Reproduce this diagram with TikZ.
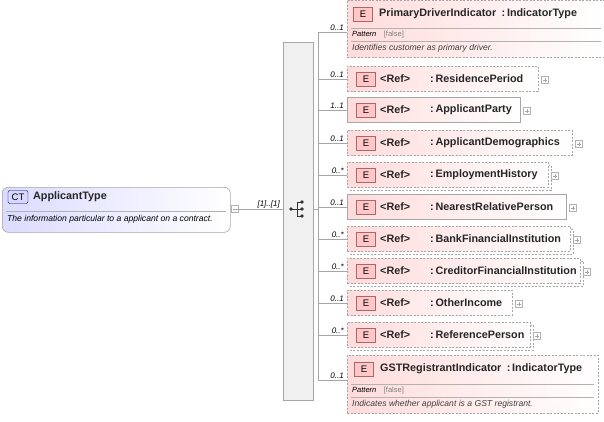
\documentclass[tikz,border=0pt]{standalone}
\usepackage{fontspec}
\setmainfont{Liberation Sans}
\usetikzlibrary{calc}
\begin{document}
\begin{tikzpicture}[x=1pt,y=-1pt,
  el/.style={draw=gray!70,line width=0.6pt,left color=red!14,right color=white,anchor=north west,inner sep=0pt},
  opt/.style={dashed,dash pattern=on 2pt off 1.5pt},
  s0/.style={}, s1/.style={opt},
  badge/.style={draw=red!45!black!60,fill=red!22,line width=0.5pt,minimum width=19pt,minimum height=14pt,inner sep=0pt,font=\fontsize{9.5}{10}\selectfont},
  ttl/.style={font=\bfseries\fontsize{10.8}{12}\selectfont,text=black!85,anchor=west,inner sep=0pt},
  card/.style={font=\itshape\fontsize{8}{9}\selectfont,anchor=south east,inner sep=1pt},
  small/.style={font=\itshape\fontsize{8.6}{9}\selectfont,anchor=west,inner sep=0pt},
  plus/.style={draw=gray!60,fill=white,minimum size=7pt,inner sep=0pt,line width=0.4pt},
  conn/.style={draw=gray!70,line width=0.6pt}]
\useasboundingbox (0,0) rectangle (604,421);
% complex type
\node[draw=gray!70,rounded corners=6pt,left color=blue!14,right color=white,line width=0.6pt,anchor=north west,minimum width=228pt,minimum height=45pt] (ct) at (2,187) {};
\node[draw=blue!50!black,fill=blue!15,rounded corners=2pt,minimum width=20pt,minimum height=13pt,inner sep=0pt,font=\fontsize{9.5}{10}\selectfont] (ctb) at (18,197) {CT};
\node[ttl] (ctt) at (33,197) {ApplicantType};
\draw[gray!60] (6,211) -- (226,211);
\node[small] (ctd) at (7,219) {The information particular to a applicant on a contract.};
\node[plus] (m) at (235,209) {};
\draw[gray!70] (232.5,209) -- (237.5,209);
% sequence
\node[draw=gray!70,fill=gray!12,anchor=north west,minimum width=30pt,minimum height=358pt,inner sep=0pt] (seq) at (283,42) {};
\draw[conn] (m.east) -- (seq.west |- m.east);
\node[card] at (281,209) {[1]..[1]};
\coordinate (h) at (291,209);
\draw[gray!40!black,line width=0.7pt] (h) -- (297,209) (297,202) -- (297,216) (297,202) -- (302,202) (297,216) -- (302,216) (297,209) -- (302,209);
\foreach \yy in {202,209,216} \fill[black!80] (302,\yy) circle (1.9pt);
\fill[black!80] (h) circle (1.9pt);
\coordinate (bt) at (318,32);
\coordinate (bb) at (318,380);
\draw[conn] (seq.east |- m.east) -- (318,209);
\draw[conn] (bt) -- (bb);
% element with details
\node[el,opt,minimum width=258pt,minimum height=57pt] (e1) at (347,0) {};
\node[badge] at (363,14) {E};
\node[ttl] at (379,14) {PrimaryDriverIndicator\enspace:\,IndicatorType};
\draw[gray!60] (351,28) -- (601,28) (351,41) -- (601,41);
\node[small,font=\itshape\fontsize{7.5}{8}\selectfont] at (352,34.5) {Pattern\quad\textcolor{gray}{\upshape[false]}};
\node[small,text=black!75] at (352,48) {Identifies customer as primary driver.};
\draw[conn] (bt) -- (bt -| e1.west);
\node[card] at (345,32) {0..1};
\node[el,opt,minimum width=251pt,minimum height=58pt] (e11) at (347,355) {};
\node[badge] at (364,369) {E};
\node[ttl] at (380,369) {GSTRegistrantIndicator\enspace:\,IndicatorType};
\draw[gray!60] (351,384) -- (594,384) (351,397) -- (594,397);
\node[small,font=\itshape\fontsize{7.5}{8}\selectfont] at (352,390.5) {Pattern\quad\textcolor{gray}{\upshape[false]}};
\node[small,text=black!75] at (352,404) {Indicates whether applicant is a GST registrant.};
\draw[conn] (bb) -- (bb -| e11.west);
\node[card] at (345,380) {0..1};
% ref elements: top, width, card, name, dashed?, multiple?
\foreach \t/\w/\c/\n/\d/\mm [count=\i] in {
  66/191/0..1/ResidencePeriod/1/0,
  97/173/1..1/ApplicantParty/0/0,
  130/225/0..1/ApplicantDemographics/1/0,
  162/201/0..*/EmploymentHistory/1/1,
  194/219/0..1/NearestRelativePerson/0/0,
  226/223/0..*/BankFinancialInstitution/1/1,
  258/233/0..*/CreditorFinancialInstitution/1/1,
  290/165/0..1/OtherIncome/1/0,
  322/183/0..*/ReferencePerson/1/1}{
  \ifnum\mm=1\relax
    \draw[gray!70,line width=0.6pt,s\d,fill=white] (350,\t+3) rectangle (347+\w+3,\t+28);
  \fi
  \node[el,s\d,minimum width=\w pt,minimum height=25pt] (r\i) at (347,\t) {};
  \node[badge] at (366,\t+13.5) {E};
  \node[ttl] at (380,\t+12.5) {<Ref>};
  \node[ttl] at (430,\t+12.5) {:\,\n};
  \node[plus] at (347+\w+7,\t+14) {};
  \draw[gray!70,line width=0.4pt] (347+\w+5,\t+14) -- (347+\w+9,\t+14) (347+\w+7,\t+12) -- (347+\w+7,\t+16);
  \draw[conn] (318,\t+13) -- (r\i.west |- 0,\t+13);
  \node[card] at (345,\t+13) {\c};
}
\end{tikzpicture}
\end{document}
